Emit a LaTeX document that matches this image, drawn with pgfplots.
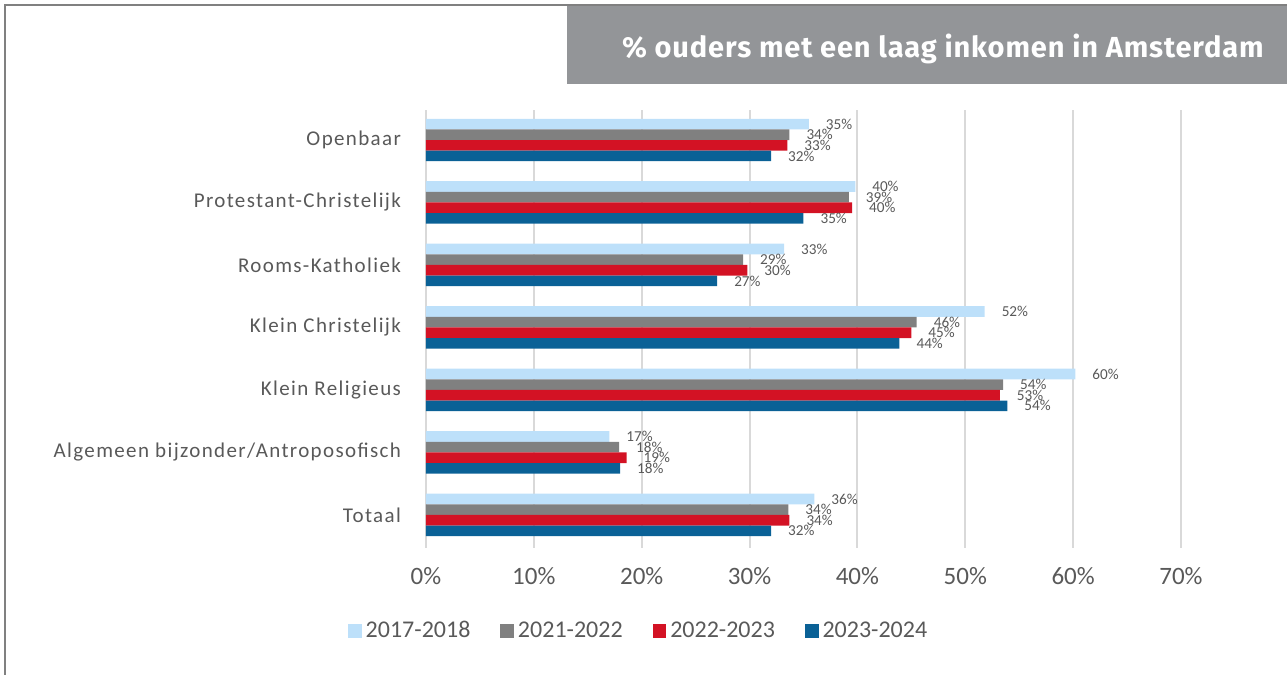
\documentclass[border=0pt]{standalone}
\usepackage{fontspec}
\setmainfont{Carlito}
\newfontfamily\titlefont[LetterSpace=3]{Fira Sans}
\newfontfamily\labfont[LetterSpace=6.5]{Carlito}
\usepackage{pgfplots}
\pgfplotsset{compat=1.18}

\definecolor{lightb}{HTML}{BDE0FA}
\definecolor{midgray}{HTML}{808080}
\definecolor{redc}{HTML}{D31224}
\definecolor{blued}{HTML}{0A6196}
\definecolor{boxgray}{HTML}{939598}
\definecolor{txt}{HTML}{595959}
\definecolor{gridc}{HTML}{D9D9D9}

% x = share, y = category index (0 = Openbaar ... 6 = Totaal)
\pgfplotstableread{
x y lab
35.5 0 35
39.8 1 40
33.2 2 33
51.8 3 52
60.2 4 60
17.0 5 17
36.0 6 36
}\sA
\pgfplotstableread{
x y lab
33.7 0 34
39.2 1 39
29.4 2 29
45.5 3 46
53.5 4 54
17.9 5 18
33.6 6 34
}\sB
\pgfplotstableread{
x y lab
33.5 0 33
39.5 1 40
29.8 2 30
45.0 3 45
53.2 4 53
18.6 5 19
33.7 6 34
}\sC
\pgfplotstableread{
x y lab
32.0 0 32
35.0 1 35
27.0 2 27
43.9 3 44
53.9 4 54
18.0 5 18
32.0 6 32
}\sD

\begin{document}
\begin{tikzpicture}
\useasboundingbox (0,0) rectangle (643.5pt,-337.5pt);
\fill[boxgray] (283.5pt,-3pt) rectangle (643.5pt,-42pt);
\draw[midgray, line width=1pt] (2.5pt,-337.5pt) -- (2.5pt,-2.5pt) -- (643.5pt,-2.5pt);
\node[anchor=east, inner sep=0pt, text=white, font=\titlefont\bfseries\fontsize{14.5}{16}\selectfont] at (632pt,-24.5pt) {\% ouders met een laag inkomen in Amsterdam};

\begin{axis}[
  at={(213pt,-55pt)}, anchor=north west,
  scale only axis, width=377.5pt, height=219pt,
  xbar, bar width=0.17,
  xmin=0, xmax=70, ymin=-0.48, ymax=6.53,
  y dir=reverse,
  axis line style={draw=none},
  major tick length=0pt,
  xtick={0,10,...,70},
  xticklabels={0\%,10\%,20\%,30\%,40\%,50\%,60\%,70\%},
  ytick={0,...,6},
  yticklabels={Openbaar,Protestant-Christelijk,Rooms-Katholiek,Klein Christelijk,Klein Religieus,Algemeen bijzonder/Antroposofisch,Totaal},
  xmajorgrids, major grid style={gridc, line width=1pt},
  xticklabel style={font=\fontsize{12.5}{14}\selectfont, text=txt, yshift=-6pt},
  yticklabel style={font=\labfont\fontsize{10.5}{12}\selectfont, text=txt, xshift=-9pt},
  point meta=explicit symbolic,
  nodes near coords={\pgfplotspointmeta\%},
  every node near coord/.append style={anchor=west, font=\fontsize{7.6}{8}\selectfont, text=txt, xshift=5pt},
  legend style={at={(0.283,-0.19)}, anchor=center, draw=none, fill=none,
    legend columns=4, font=\fontsize{12}{14}\selectfont, text=txt,
    /tikz/every even column/.append style={column sep=13pt}},
  legend image code/.code={\fill[#1] (0pt,-3.4pt) rectangle (6.8pt,3.4pt);},
]
\addplot[fill=lightb, draw=none, bar shift=-0.255] table[x=x, y=y, meta=lab] {\sA};
\addlegendentry{2017-2018}
\addplot[fill=midgray, draw=none, bar shift=-0.085] table[x=x, y=y, meta=lab] {\sB};
\addlegendentry{2021-2022}
\addplot[fill=redc, draw=none, bar shift=0.085] table[x=x, y=y, meta=lab] {\sC};
\addlegendentry{2022-2023}
\addplot[fill=blued, draw=none, bar shift=0.255] table[x=x, y=y, meta=lab] {\sD};
\addlegendentry{2023-2024}
\end{axis}
\end{tikzpicture}
\end{document}
